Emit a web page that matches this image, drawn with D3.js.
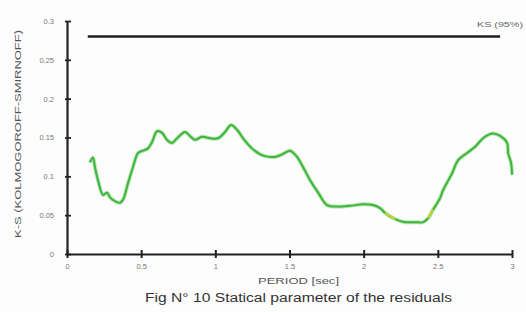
<!DOCTYPE html>
<html>
<head>
<meta charset="utf-8">
<script src="https://cdn.jsdelivr.net/npm/d3@7"></script>
<style>
  html, body { margin: 0; padding: 0; background: #fdfdfd; }
  svg { display: block; font-family: Arial, "Liberation Sans", sans-serif; }
</style>
</head>
<body>
<svg id="chart" width="526" height="312"></svg>
<script>
// values
const period = [0.155, 0.175, 0.189, 0.209, 0.243, 0.27, 0.29, 0.324, 0.357, 0.378, 0.411, 0.445, 0.479, 0.512,
  0.546, 0.573, 0.607, 0.641, 0.674, 0.708, 0.742, 0.796, 0.829, 0.863, 0.91, 0.964, 1.018, 1.065, 1.106,
  1.146, 1.187, 1.247, 1.288, 1.335, 1.403, 1.457, 1.504, 1.551, 1.591, 1.639, 1.693, 1.753, 1.821, 1.908,
  1.996, 2.063, 2.111, 2.144, 2.212, 2.279, 2.347, 2.401, 2.434, 2.468, 2.515, 2.535, 2.596, 2.637, 2.697,
  2.751, 2.805, 2.866, 2.92, 2.967, 2.974, 2.994, 3.0];
const ks = [0.118, 0.124, 0.111, 0.095, 0.076, 0.079, 0.073, 0.068, 0.066, 0.07, 0.091, 0.112, 0.13, 0.133,
  0.136, 0.144, 0.158, 0.156, 0.147, 0.143, 0.149, 0.157, 0.152, 0.147, 0.151, 0.149, 0.149, 0.157, 0.166,
  0.16, 0.149, 0.136, 0.13, 0.126, 0.125, 0.129, 0.133, 0.125, 0.112, 0.095, 0.079, 0.063, 0.061, 0.062,
  0.064, 0.063, 0.059, 0.053, 0.045, 0.041, 0.041, 0.041, 0.046, 0.057, 0.072, 0.082, 0.104, 0.121, 0.13,
  0.138, 0.149, 0.155, 0.152, 0.143, 0.13, 0.117, 0.102];

const ksLimit = 0.28;
const ksLimitSpan = [0.14, 2.92];
const yellowRanges = [[2.12, 2.25], [2.43, 2.49]];

const xTicks = [0, 0.5, 1, 1.5, 2, 2.5, 3];
const xTickLabels = ['0', '0.5', '1', '1.5', '2', '2.5', '3'];
const yTicks = [0, 0.05, 0.1, 0.15, 0.2, 0.25, 0.3];
const yTickLabels = ['0', '0.05', '0.1', '0.15', '0.2', '0.25', '0.3'];

const svg = d3.select('#chart');

const x = d3.scaleLinear().domain([0, 3]).range([67, 512]);
const y = d3.scaleLinear().domain([0, 0.3]).range([254, 21]);

const points = period.map((p, i) => ({ p, v: ks[i] }));

// axes
const xAxis = d3.axisBottom(x)
  .tickValues(xTicks)
  .tickFormat((d, i) => xTickLabels[i])
  .tickSizeOuter(0);

svg.append('g')
  .attr('transform', `translate(0,${y(0)})`)
  .call(xAxis)
  .call(g => g.select('.domain').attr('stroke', '#222').attr('stroke-width', 2.2))
  .call(g => g.selectAll('.tick line').attr('y1', -4).attr('y2', 4).attr('stroke', '#222').attr('stroke-width', 2))
  .call(g => g.selectAll('.tick text').attr('y', 10).attr('fill', '#777').attr('font-size', 7.5));

const yAxis = d3.axisLeft(y)
  .tickValues(yTicks)
  .tickFormat((d, i) => yTickLabels[i])
  .tickSizeOuter(0);

svg.append('g')
  .attr('transform', `translate(${x(0)},0)`)
  .call(yAxis)
  .call(g => g.select('.domain').attr('stroke', '#222').attr('stroke-width', 2.2))
  .call(g => g.selectAll('.tick line').attr('x1', -2).attr('x2', 4).attr('stroke', '#222').attr('stroke-width', 1.8))
  .call(g => g.selectAll('.tick text').attr('x', -13).attr('fill', '#777').attr('font-size', 7.5));

// KS 95% level
svg.append('line')
  .attr('x1', x(ksLimitSpan[0]))
  .attr('x2', x(ksLimitSpan[1]))
  .attr('y1', y(ksLimit))
  .attr('y2', y(ksLimit))
  .attr('stroke', '#1e1e1e')
  .attr('stroke-width', 2.6);

svg.append('text')
  .attr('x', 477)
  .attr('y', 27)
  .attr('textLength', 46)
  .attr('lengthAdjust', 'spacingAndGlyphs')
  .attr('font-size', 7.5)
  .attr('fill', '#666')
  .text('KS (95%)');

// residual curve
const line = d3.line()
  .x(d => x(d.p))
  .y(d => y(d.v))
  .curve(d3.curveCatmullRom.alpha(0.5));

svg.append('path')
  .datum(points)
  .attr('fill', 'none')
  .attr('stroke', '#b8e6b0')
  .attr('stroke-width', 4)
  .attr('d', line);

svg.append('path')
  .datum(points)
  .attr('fill', 'none')
  .attr('stroke', '#3fb53f')
  .attr('stroke-width', 2)
  .attr('stroke-linejoin', 'round')
  .attr('d', line);

yellowRanges.forEach(([a, b]) => {
  svg.append('path')
    .datum(points.filter(d => d.p >= a && d.p <= b))
    .attr('fill', 'none')
    .attr('stroke', '#c9d23a')
    .attr('stroke-width', 2)
    .attr('d', line);
});

// titles
svg.append('text')
  .attr('transform', 'translate(21,134) rotate(-90)')
  .attr('text-anchor', 'middle')
  .attr('textLength', 208)
  .attr('lengthAdjust', 'spacingAndGlyphs')
  .attr('font-size', 8.5)
  .attr('fill', '#555')
  .text('K-S (KOLMOGOROFF-SMIRNOFF)');

svg.append('text')
  .attr('x', 258)
  .attr('y', 284)
  .attr('textLength', 81)
  .attr('lengthAdjust', 'spacingAndGlyphs')
  .attr('font-size', 9)
  .attr('fill', '#555')
  .text('PERIOD [sec]');

svg.append('text')
  .attr('x', 145)
  .attr('y', 302)
  .attr('textLength', 307)
  .attr('lengthAdjust', 'spacingAndGlyphs')
  .attr('font-size', 12)
  .attr('fill', '#333')
  .text('Fig N° 10 Statical parameter of the residuals');
</script>
</body>
</html>
